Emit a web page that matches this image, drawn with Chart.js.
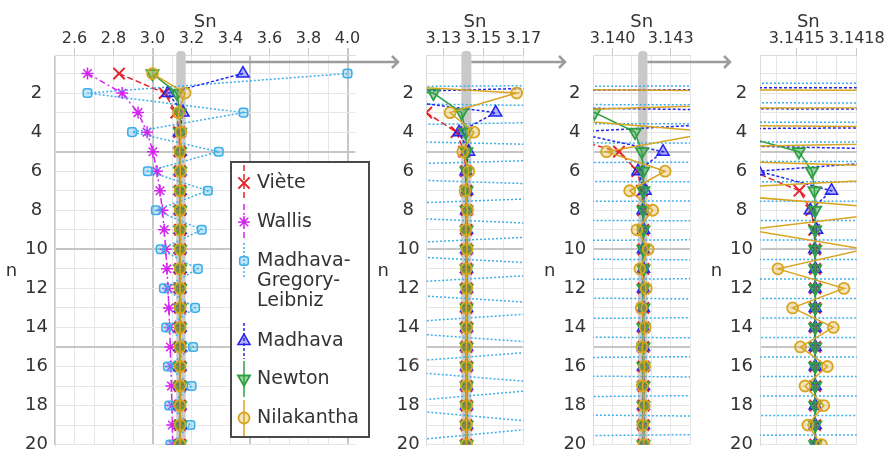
<!DOCTYPE html>
<html>
<head>
<meta charset="utf-8">
<script src="https://cdn.jsdelivr.net/npm/chart.js@4.4.1/dist/chart.umd.min.js"></script>
<style>
  html, body { margin: 0; padding: 0; background: #fff; }
  #wrap { position: relative; width: 887px; height: 455px; overflow: hidden; }
  canvas { position: absolute; top: 0; }
</style>
</head>
<body>
<div id="wrap">
  <canvas id="c1" width="400" height="455" style="left:0px"></canvas>
  <canvas id="c2" width="196" height="455" style="left:372px"></canvas>
  <canvas id="c3" width="194" height="455" style="left:538px"></canvas>
  <canvas id="c4" width="182" height="455" style="left:705px"></canvas>
</div>
<script>
// partial sums S_n of six series for pi, n = 1..20
var n = [1, 2, 3, 4, 5, 6, 7, 8, 9, 10, 11, 12, 13, 14, 15, 16, 17, 18, 19, 20];
var viete = [2.8284271, 3.0614675, 3.1214452, 3.1365485, 3.1403312, 3.1412773, 3.1415138, 3.1415729, 3.1415877, 3.1415914,
             3.1415924, 3.1415926, 3.1415926, 3.1415927, 3.1415927, 3.1415927, 3.1415927, 3.1415927, 3.1415927, 3.1415927];
var wallis = [2.6666667, 2.8444444, 2.9257143, 2.9721541, 3.0021759, 3.0231704, 3.0386737, 3.0505899, 3.0600345, 3.0677039,
              3.0740551, 3.0794009, 3.0839634, 3.0879020, 3.0913370, 3.0943589, 3.0970384, 3.0994300, 3.1015780, 3.1035177];
var leibniz = [4.0, 2.6666667, 3.4666667, 2.8952381, 3.3396825, 2.9760462, 3.2837385, 3.0170718, 3.2523659, 3.0418396,
               3.2323158, 3.0584027, 3.2184027, 3.0702546, 3.2081857, 3.0791534, 3.2003655, 3.0860798, 3.1941879, 3.0916238];
var madhava = [3.4641016, 3.0792014, 3.1561814, 3.1378528, 3.1426047, 3.1413087, 3.1416743, 3.1415687, 3.1415997, 3.1415905,
               3.1415933, 3.1415925, 3.1415927, 3.1415926, 3.1415927, 3.1415927, 3.1415927, 3.1415927, 3.1415927, 3.1415927];
var newton = [3.0, 3.125, 3.1390625, 3.1411551, 3.1415112, 3.1415767, 3.1415894, 3.1415920, 3.1415925, 3.1415926,
              3.1415926, 3.1415927, 3.1415927, 3.1415927, 3.1415927, 3.1415927, 3.1415927, 3.1415927, 3.1415927, 3.1415927];
var nilakantha = [3.0, 3.1666667, 3.1333333, 3.1452381, 3.1396825, 3.1427128, 3.1408813, 3.1420718, 3.1412548, 3.1418396,
                  3.1414067, 3.1417361, 3.1414797, 3.1416832, 3.1415190, 3.1416534, 3.1415420, 3.1416354, 3.1415563, 3.1416238];
var names = ['Viète', 'Wallis', 'Madhava-\nGregory-\nLeibniz', 'Madhava', 'Newton', 'Nilakantha'];

// tick labels on the Sn axis of each panel, and on the n axis
var ticks1 = ['2.6', '2.8', '3.0', '3.2', '3.4', '3.6', '3.8', '4.0'];
var ticks2 = ['3.13', '3.15', '3.17'];
var ticks3 = ['3.140', '3.143'];
var ticks4 = ['3.1415', '3.1418'];
var nTicks = [2, 4, 6, 8, 10, 12, 14, 16, 18, 20];

var FONT = 'DejaVu Sans';
var TEXT = '#333333';
Chart.defaults.font.family = FONT;
Chart.defaults.color = TEXT;

var styles = [
  { data: viete,      color: '#e3242b', fill: '#e3242b',               point: 'crossRot', r: 8,   pw: 2,   rot: 0,   dash: [6, 3] },
  { data: wallis,     color: '#d424f0', fill: '#d424f0',               point: 'star',     r: 6,   pw: 1.5, rot: 0,   dash: [6, 3, 2, 3] },
  { data: leibniz,    color: '#3daee9', fill: 'rgba(61,174,233,0.3)',  point: 'rectRounded', r: 5, pw: 1.5, rot: 0, dash: [2, 2] },
  { data: madhava,    color: '#2424f0', fill: 'rgba(36,36,240,0.35)',  point: 'triangle', r: 7,   pw: 1.5, rot: 0,   dash: [3, 2] },
  { data: newton,     color: '#2ea043', fill: 'rgba(46,160,67,0.45)',  point: 'triangle', r: 7,   pw: 1.8, rot: 180, dash: [] },
  { data: nilakantha, color: '#d8a520', fill: 'rgba(216,165,32,0.3)',  point: 'circle',   r: 5.5, pw: 1.8, rot: 0,   dash: [] }
];

function buildDatasets() {
  return styles.map(function (s, i) {
    return {
      label: names[i],
      data: n.map(function (v, j) { return { x: s.data[j], y: v }; }),
      showLine: true,
      borderColor: s.color,
      backgroundColor: s.fill,
      borderWidth: 1.5,
      borderDash: s.dash,
      pointStyle: s.point,
      pointRadius: s.r,
      pointRotation: s.rot,
      pointBorderWidth: s.pw,
      pointBorderColor: s.color,
      pointBackgroundColor: s.fill,
      order: 6 - i
    };
  });
}

var panels = [
  { id: 'c1', min: 2.5,      max: 4.04,   step: 0.1,    dec: 1, labels: ticks1, yw: 55,   pr: 44.7, arrow: 398 },
  { id: 'c2', min: 3.12165,  max: 3.17,   step: 0.01,   dec: 2, labels: ticks2, yw: 54.7, pr: 44.7, arrow: 193 },
  { id: 'c3', min: 3.139,    max: 3.144,  step: 0.001,  dec: 3, labels: ticks3, yw: 55.3, pr: 42,   arrow: 192 },
  { id: 'c4', min: 3.141317, max: 3.1418, step: 0.0001, dec: 4, labels: ticks4, yw: 55,   pr: 30.3, arrow: null }
];

function isHalf(v) { return Math.abs(v * 2 - Math.round(v * 2)) < 1e-9; }

// grey band = range of the next panel, plus arrow pointing at it
function bandPlugin(idx) {
  return {
    id: 'band' + idx,
    beforeDatasetsDraw: function (chart) {
      var next = panels[idx + 1];
      if (!next) return;
      var ctx = chart.ctx, xs = chart.scales.x, area = chart.chartArea;
      var a = xs.getPixelForValue(next.min), b = xs.getPixelForValue(next.max);
      ctx.save();
      ctx.fillStyle = '#c9c9c9';
      ctx.beginPath();
      ctx.roundRect(a, area.top - 4, b - a, area.bottom - area.top + 4, [4, 4, 0, 0]);
      ctx.fill();
      var y = 62, e = panels[idx].arrow;
      ctx.strokeStyle = '#9c9c9c';
      ctx.lineWidth = 2.5;
      ctx.beginPath();
      ctx.moveTo(b, y);
      ctx.lineTo(e, y);
      ctx.moveTo(e - 6, y - 6);
      ctx.lineTo(e, y);
      ctx.lineTo(e - 6, y + 6);
      ctx.stroke();
      ctx.restore();
    }
  };
}

var nTitle = {
  id: 'nTitle',
  afterDraw: function (chart) {
    var ctx = chart.ctx;
    ctx.save();
    ctx.font = '18px "' + FONT + '"';
    ctx.fillStyle = TEXT;
    ctx.textAlign = 'center';
    ctx.textBaseline = 'middle';
    ctx.fillText('n', chart.chartArea.left - 43.5, 271);
    ctx.restore();
  }
};

var legendRows = [183, 222, 261, 341, 379, 418];
var boxLegend = {
  id: 'boxLegend',
  afterDraw: function (chart) {
    var ctx = chart.ctx;
    ctx.save();
    ctx.fillStyle = '#ffffff';
    ctx.strokeStyle = '#4a4a4a';
    ctx.lineWidth = 2;
    ctx.beginPath();
    ctx.rect(231, 162, 138, 275);
    ctx.fill();
    ctx.stroke();
    ctx.font = '19px "' + FONT + '"';
    ctx.textBaseline = 'middle';
    ctx.textAlign = 'left';
    styles.forEach(function (s, i) {
      var y = legendRows[i], x = 244;
      ctx.strokeStyle = s.color;
      ctx.lineWidth = 1.5;
      ctx.setLineDash(s.dash);
      ctx.beginPath();
      ctx.moveTo(x, y - 18);
      ctx.lineTo(x, y + 18);
      ctx.stroke();
      ctx.setLineDash([]);
      ctx.fillStyle = s.fill;
      ctx.lineWidth = s.pw;
      if (Chart.helpers && Chart.helpers.drawPoint) {
        Chart.helpers.drawPoint(ctx, { pointStyle: s.point, radius: s.r, rotation: s.rot, borderWidth: s.pw }, x, y);
      }
      ctx.fillStyle = TEXT;
      names[i].split('\n').forEach(function (line, k) {
        ctx.fillText(line, 257, y + k * 20);
      });
    });
    ctx.restore();
  }
};

panels.forEach(function (p, idx) {
  var plugins = [bandPlugin(idx), nTitle];
  if (idx === 0) plugins.push(boxLegend);
  new Chart(document.getElementById(p.id), {
    type: 'scatter',
    data: { datasets: buildDatasets() },
    options: {
      responsive: false,
      animation: false,
      events: [],
      layout: { padding: { left: 0, right: p.pr, top: 0, bottom: 9.5 } },
      plugins: { legend: { display: false }, tooltip: { enabled: false } },
      scales: {
        x: {
          type: 'linear',
          position: 'top',
          min: p.min,
          max: p.max,
          afterBuildTicks: function (scale) {
            var t = [];
            var k0 = Math.ceil(p.min / p.step - 1e-6), k1 = Math.floor(p.max / p.step + 1e-6);
            for (var k = k0; k <= k1; k++) t.push({ value: +(k * p.step).toFixed(6) });
            scale.ticks = t;
          },
          afterFit: function (scale) {
            scale.height = 55;
            scale.paddingLeft = 0; scale.paddingRight = 0;
          },
          ticks: {
            autoSkip: false,
            maxRotation: 0,
            minRotation: 0,
            padding: 0,
            font: { size: 16, lineHeight: 1.2 },
            callback: function (v) {
              var s = Number(v).toFixed(p.dec);
              return p.labels.indexOf(s) >= 0 ? s : '';
            }
          },
          grid: {
            tickLength: 7,
            color: function (c) { return c.tick && isHalf(c.tick.value) ? '#c6c6c6' : '#e6e6e6'; },
            lineWidth: function (c) { return c.tick && isHalf(c.tick.value) ? 2 : 1; },
            tickColor: function (c) { return c.tick && c.tick.label ? '#c8c8c8' : 'rgba(0,0,0,0)'; }
          },
          border: { color: '#dcdcdc' },
          title: {
            display: true,
            text: 'Sn',
            color: TEXT,
            font: { size: 18, lineHeight: 1 },
            padding: { top: 13, bottom: 0 }
          }
        },
        y: {
          type: 'linear',
          reverse: true,
          min: 0.05,
          max: 20.02,
          afterBuildTicks: function (scale) {
            scale.ticks = n.map(function (v) { return { value: v }; });
          },
          afterFit: function (scale) {
            scale.width = p.yw;
            scale.paddingTop = 0; scale.paddingBottom = 0;
          },
          ticks: {
            autoSkip: false,
            crossAlign: 'center',
            padding: 7,
            font: { size: 18 },
            callback: function (v) { return nTicks.indexOf(v) >= 0 ? String(v) : ''; }
          },
          grid: {
            drawTicks: false,
            color: function (c) { var v = c.tick ? c.tick.value : 0; return (v === 5 || v === 10 || v === 15) ? '#c6c6c6' : '#e6e6e6'; },
            lineWidth: function (c) { var v = c.tick ? c.tick.value : 0; return (v === 5 || v === 10 || v === 15) ? 2 : 1; }
          },
          border: { color: '#dcdcdc' }
        }
      }
    },
    plugins: plugins
  });
});
</script>
</body>
</html>
